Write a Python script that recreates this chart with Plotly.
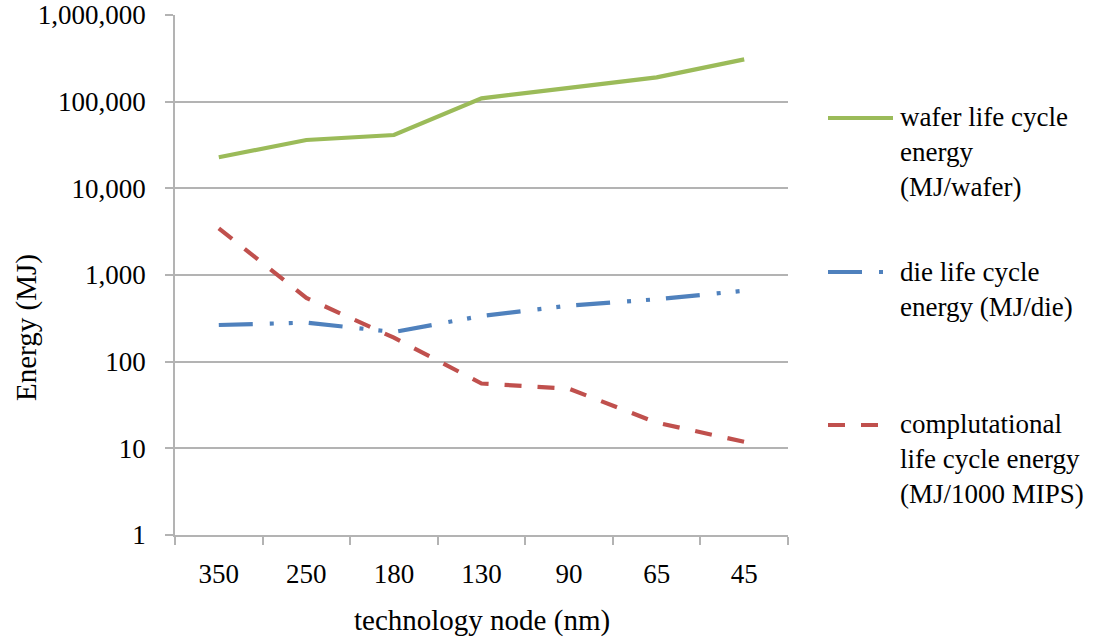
import plotly.graph_objects as go

# ---- data ----
nodes = ["350", "250", "180", "130", "90", "65", "45"]
wafer_energy = [22800, 36100, 41200, 109000, 144500, 191000, 308000]
die_energy = [265, 282, 220, 337, 443, 525, 659]
comp_energy = [3460, 543, 189, 56, 48.7, 19.8, 11.9]

y_tick_vals = [1, 10, 100, 1000, 10000, 100000, 1000000]
y_tick_text = ["1", "10", "100", "1,000", "10,000", "100,000", "1,000,000"]

series_names = [
    "wafer life cycle<br>energy<br>(MJ/wafer)",
    "die life cycle<br>energy (MJ/die)",
    "complutational<br>life cycle energy<br>(MJ/1000 MIPS)",
]
colors = ["#9bbb59", "#4f81bd", "#c0504d"]
dashes = ["solid", "34px,17px,4px,15px,4px,16px", "17px,16px"]

FONT = "'Liberation Serif', 'Times New Roman', Times, Tinos, 'DejaVu Serif', serif"
GRID = "#b3b3b3"

W, H = 1094, 641
L, R, T, B = 175, 306, 15, 106
pw, ph = W - L - R, H - T - B


def px_x(x):
    return (x - L) / pw


def px_y(y):
    return (H - B - y) / ph


fig = go.Figure()
for name, vals, col, dsh in zip(series_names, [wafer_energy, die_energy, comp_energy], colors, dashes):
    fig.add_trace(go.Scatter(
        x=nodes, y=vals, mode="lines", name=name,
        line=dict(color=col, width=4.2, dash=dsh),
        showlegend=False,
    ))

# manual legend (line samples + multi-line labels)
legend_y = [118, 272, 425]
legend_x1 = [893, 884, 880]
text_center = [151.7, 289, 458.7]
shapes = []
annotations = []
for name, col, dsh, ly, lx1, tc in zip(series_names, colors, dashes, legend_y, legend_x1, text_center):
    shapes.append(dict(
        type="line", xref="paper", yref="paper",
        x0=px_x(828), x1=px_x(lx1), y0=px_y(ly), y1=px_y(ly),
        line=dict(color=col, width=4.2, dash=dsh),
    ))
    annotations.append(dict(
        xref="paper", yref="paper", x=px_x(898), y=px_y(tc),
        xanchor="left", yanchor="middle", align="left", showarrow=False,
        text=name, font=dict(family=FONT, size=27, color="#000000"),
    ))

# axis titles
annotations.append(dict(
    xref="paper", yref="paper", x=0.5, y=px_y(620),
    xanchor="center", yanchor="middle", showarrow=False,
    text="technology node (nm)", font=dict(family=FONT, size=29, color="#000000"),
))
annotations.append(dict(
    xref="paper", yref="paper", x=px_x(26), y=px_y(328),
    xanchor="center", yanchor="middle", showarrow=False, textangle=-90,
    text="Energy (MJ)", font=dict(family=FONT, size=29, color="#000000"),
))

fig.update_layout(
    width=W, height=H,
    margin=dict(l=L, r=R, t=T, b=B, autoexpand=False),
    paper_bgcolor="white", plot_bgcolor="white",
    font=dict(family=FONT, size=27, color="#000000"),
    shapes=shapes, annotations=annotations,
    showlegend=False,
)
fig.update_xaxes(
    type="category", range=[-0.5, 6.5], automargin=False,
    tickson="boundaries", ticks="outside", ticklen=8, tickwidth=1.5, tickcolor=GRID,
    showline=True, linecolor=GRID, linewidth=1.5, showgrid=False,
    ticklabelstandoff=14,
    tickfont=dict(family=FONT, size=27, color="#000000"),
)
fig.update_yaxes(
    type="log", range=[0, 6], automargin=False,
    tickvals=y_tick_vals, ticktext=y_tick_text,
    ticks="outside", ticklen=8, tickwidth=1.5, tickcolor=GRID,
    showline=True, linecolor=GRID, linewidth=1.5,
    showgrid=True, gridcolor=GRID, gridwidth=1.5, zeroline=False,
    ticklabelstandoff=14,
    tickfont=dict(family=FONT, size=27, color="#000000"),
)

fig.write_html("out.html")
